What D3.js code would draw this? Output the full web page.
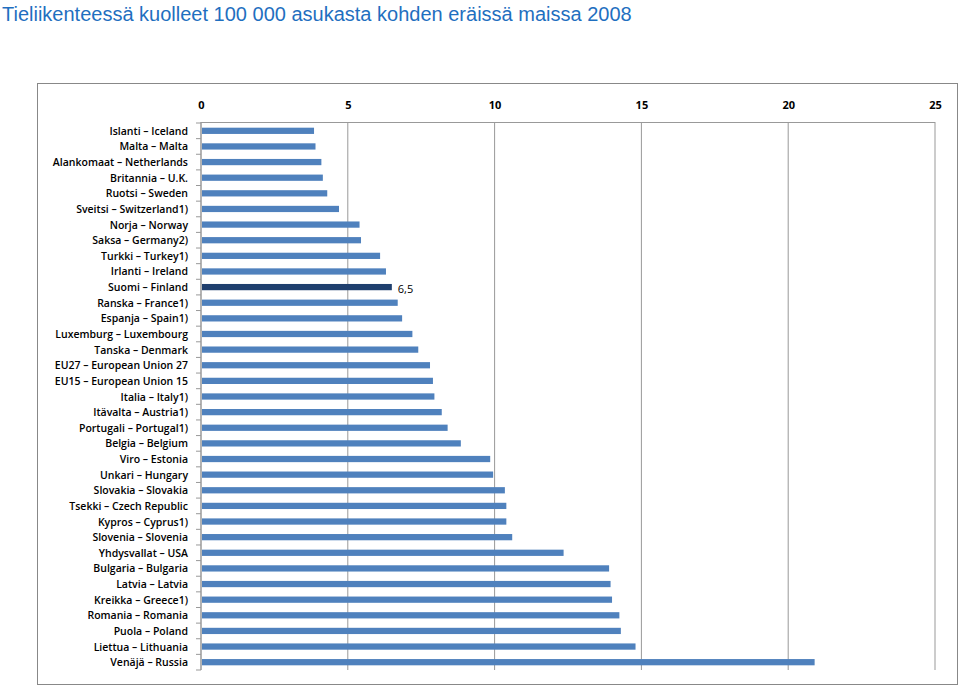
<!DOCTYPE html>
<html><head><meta charset="utf-8">
<script src="https://cdn.jsdelivr.net/npm/d3@7"></script>
<style>
body{margin:0;background:#fff;font-family:"Open Sans",sans-serif;}
</style></head><body>
<script>
// country labels, top to bottom
var countries = ["Islanti – Iceland","Malta – Malta","Alankomaat – Netherlands","Britannia – U.K.","Ruotsi – Sweden",
 "Sveitsi – Switzerland1)","Norja – Norway","Saksa – Germany2)","Turkki – Turkey1)","Irlanti – Ireland",
 "Suomi – Finland","Ranska – France1)","Espanja – Spain1)","Luxemburg – Luxembourg","Tanska – Denmark",
 "EU27 – European Union 27","EU15 – European Union 15","Italia – Italy1)","Itävalta – Austria1)","Portugali – Portugal1)",
 "Belgia – Belgium","Viro – Estonia","Unkari – Hungary","Slovakia – Slovakia","Tsekki – Czech Republic",
 "Kypros – Cyprus1)","Slovenia – Slovenia","Yhdysvallat – USA","Bulgaria – Bulgaria","Latvia – Latvia",
 "Kreikka – Greece1)","Romania – Romania","Puola – Poland","Liettua – Lithuania","Venäjä – Russia"];
var deaths = [3.85,3.9,4.1,4.15,4.3,4.7,5.4,5.45,6.1,6.3,6.5,6.7,6.85,7.2,7.4,7.8,7.9,7.95,8.2,8.4,
 8.85,9.85,9.95,10.35,10.4,10.4,10.6,12.35,13.9,13.95,14.0,14.25,14.3,14.8,20.9];
var xTicks = [0,5,10,15,20,25];

var svg = d3.select("body").append("svg").attr("width",960).attr("height",686);

svg.append("text").attr("x",2).attr("y",21).attr("fill","#1F6FC0")
  .style("font-family","'Liberation Sans',Arial,sans-serif").style("font-size","20px")
  .text("Tieliikenteessä kuolleet 100 000 asukasta kohden eräissä maissa 2008");

svg.append("rect").attr("x",37.5).attr("y",83.5).attr("width",920).attr("height",601)
  .attr("fill","none").attr("stroke","#888");

var x = d3.scaleLinear().domain([0,25]).range([201,935]);
var y = d3.scaleBand().domain(countries).range([123,670]).paddingInner(0.6).paddingOuter(0.3);

// grid
svg.selectAll("line.grid").data(xTicks).enter().append("line")
  .attr("x1",d=>x(d)).attr("x2",d=>x(d)).attr("y1",122).attr("y2",670)
  .attr("stroke","#999").attr("stroke-width",1);
svg.append("line").attr("x1",201).attr("x2",935).attr("y1",122.5).attr("y2",122.5).attr("stroke","#999");

var xa = svg.append("g").attr("transform","translate(0,112)")
  .call(d3.axisTop(x).tickValues(xTicks).tickSize(0).tickFormat(d3.format("d")));
xa.select(".domain").remove();
xa.selectAll("text").style("font-family","'Open Sans',sans-serif").style("font-size","11px")
  .style("font-weight","bold").attr("fill","#000");

// y axis ticks between categories
var step = y.step();
var edges = d3.range(countries.length+1).map(i => 123 + i*(547/countries.length));
svg.selectAll("line.yt").data(edges).enter().append("line")
  .attr("x1",196).attr("x2",201).attr("y1",d=>d).attr("y2",d=>d).attr("stroke","#999");
svg.append("line").attr("x1",201).attr("x2",201).attr("y1",122).attr("y2",670).attr("stroke","#999");

svg.selectAll("rect.bar").data(deaths).enter().append("rect")
  .attr("x",x(0)+1).attr("y",(d,i)=>y(countries[i]))
  .attr("width",d=>x(d)-x(0)-1).attr("height",y.bandwidth())
  .attr("fill",(d,i)=>countries[i].indexOf("Finland")>=0?"#1F3F6E":"#4F81BD");

svg.selectAll("text.lab").data(countries).enter().append("text")
  .attr("x",188).attr("y",d=>y(d)+y.bandwidth()/2+4).attr("text-anchor","end")
  .style("font-family","'Open Sans',sans-serif").style("font-size","10.5px").style("font-weight","600")
  .text(d=>d);

var fi = countries.indexOf("Suomi – Finland");
svg.append("text").attr("x",x(deaths[fi])+6).attr("y",y(countries[fi])+y.bandwidth()/2+6)
  .style("font-family","'Open Sans',sans-serif").style("font-size","11px").text("6,5");
</script>
</body></html>
